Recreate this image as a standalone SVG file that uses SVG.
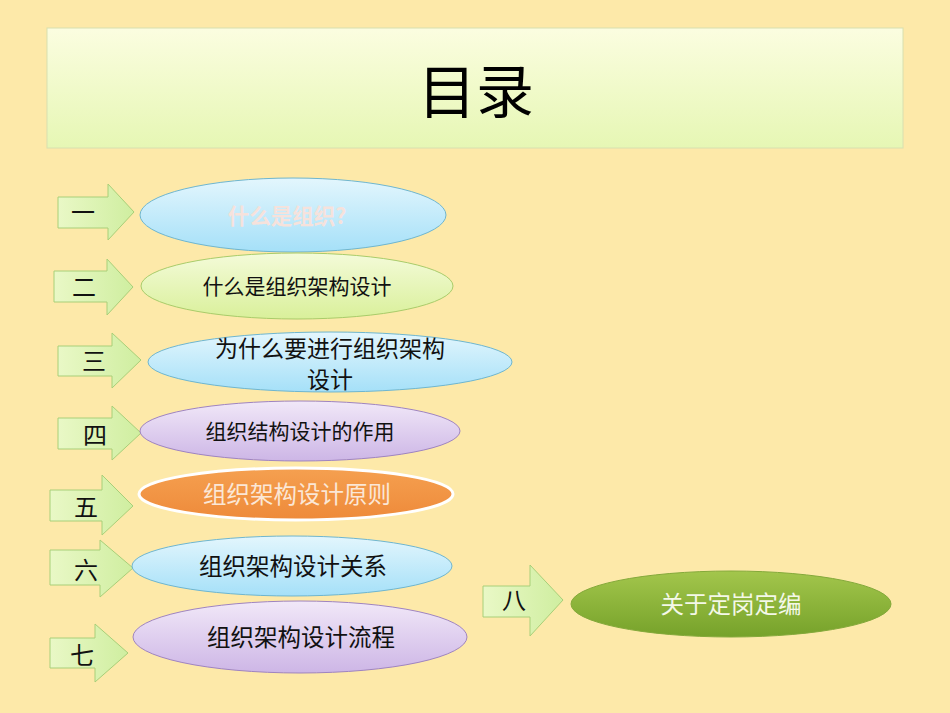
<svg xmlns="http://www.w3.org/2000/svg" width="950" height="713" viewBox="0 0 950 713">
<style>
text{font-family:"Noto Sans CJK SC","Liberation Sans",sans-serif;text-anchor:middle}
.arr{fill:url(#ga);stroke:#a8cf78;stroke-width:1}
.num{font-size:24px;fill:#111}
.lbl{font-size:21px;fill:#111}
.big{font-size:23.5px}
</style>
<defs>
<linearGradient id="gt" x1="0" y1="0" x2="0" y2="1"><stop offset="0" stop-color="#fbfde0"/><stop offset="1" stop-color="#e6f7b4"/></linearGradient>
<linearGradient id="ga" x1="0" y1="0" x2="1" y2="0"><stop offset="0" stop-color="#e9f8c6"/><stop offset="1" stop-color="#cfeea0"/></linearGradient>
<linearGradient id="gb" x1="0" y1="0" x2="0" y2="1"><stop offset="0" stop-color="#e3f6fd"/><stop offset="1" stop-color="#a5e0f8"/></linearGradient>
<linearGradient id="gg" x1="0" y1="0" x2="0" y2="1"><stop offset="0" stop-color="#f4fbd9"/><stop offset="1" stop-color="#d9f09a"/></linearGradient>
<linearGradient id="gp" x1="0" y1="0" x2="0" y2="1"><stop offset="0" stop-color="#f1e8f8"/><stop offset="1" stop-color="#cdb6e6"/></linearGradient>
<linearGradient id="go" x1="0" y1="0" x2="0" y2="1"><stop offset="0" stop-color="#f5a050"/><stop offset="1" stop-color="#ee8a3a"/></linearGradient>
<linearGradient id="gd" x1="0" y1="0" x2="0" y2="1"><stop offset="0" stop-color="#a3c64c"/><stop offset="1" stop-color="#76a22a"/></linearGradient>
</defs>
<rect width="950" height="713" fill="#fde9a9"/>
<g id="title">
<rect x="47" y="28" width="856" height="120" fill="url(#gt)" stroke="#d8e0b0"/>
<text x="476" y="113" style="font-size:58px" fill="#000">目录</text>
</g>
<g id="connectors">
<path class="arr" d="M58,197H108V184L134,212L108,240V228H58Z"/>
<path class="arr" d="M54,271H107V259L133,287L107,315V302H54Z"/>
<path class="arr" d="M58,346H112V333L141,360L112,388V376H58Z"/>
<path class="arr" d="M58,418H112V406L141,433L112,460V449H58Z"/>
<path class="arr" d="M50,490H102V475L133,506L102,535V521H50Z"/>
<path class="arr" d="M50,550H100V540L133,568L100,597V585H50Z"/>
<path class="arr" d="M50,638H95V624L128,653L95,682V668H50Z"/>
<path class="arr" d="M483,586H530V565L563,600L530,636V617H483Z"/>
</g>
<g id="n1"><text class="num" x="83" y="221">一</text><ellipse cx="293" cy="215" rx="153" ry="37" fill="url(#gb)" stroke="#6fb6cf"/><text x="287" y="224" style="font-size:21.5px;font-weight:bold" fill="#f6e2dc">什么是组织?</text></g>
<g id="n2"><text class="num" x="84" y="296">二</text><ellipse cx="297" cy="286" rx="156" ry="33" fill="url(#gg)" stroke="#a9cc6a"/><text class="lbl" x="297" y="294">什么是组织架构设计</text></g>
<g id="n3"><text class="num" x="94" y="370">三</text><ellipse cx="330" cy="362" rx="182" ry="30" fill="url(#gb)" stroke="#6fb6cf"/><text class="lbl" x="330" y="357" style="font-size:23px">为什么要进行组织架构</text><text class="lbl" x="330" y="388" style="font-size:23px">设计</text></g>
<g id="n4"><text class="num" x="95" y="444">四</text><ellipse cx="300" cy="431" rx="160" ry="30" fill="url(#gp)" stroke="#9f84c0"/><text class="lbl" x="300" y="439">组织结构设计的作用</text></g>
<g id="n5"><text class="num" x="86" y="516">五</text><ellipse cx="296" cy="494" rx="157" ry="26" fill="url(#go)" stroke="#fff" stroke-width="3"/><text class="big" x="297" y="503" fill="#fbe7d6">组织架构设计原则</text></g>
<g id="n6"><text class="num" x="86" y="579">六</text><ellipse cx="292" cy="566" rx="160" ry="30" fill="url(#gb)" stroke="#6fb6cf"/><text class="lbl big" x="293" y="575">组织架构设计关系</text></g>
<g id="n7"><text class="num" x="82" y="664">七</text><ellipse cx="300" cy="637" rx="167" ry="36" fill="url(#gp)" stroke="#9f84c0"/><text class="lbl big" x="301" y="646">组织架构设计流程</text></g>
<g id="n8"><text class="num" x="514" y="609">八</text><ellipse cx="731" cy="604" rx="160" ry="33" fill="url(#gd)" stroke="#84a93a"/><text class="big" x="731" y="613" fill="#f4f8e8">关于定岗定编</text></g>
</svg>
